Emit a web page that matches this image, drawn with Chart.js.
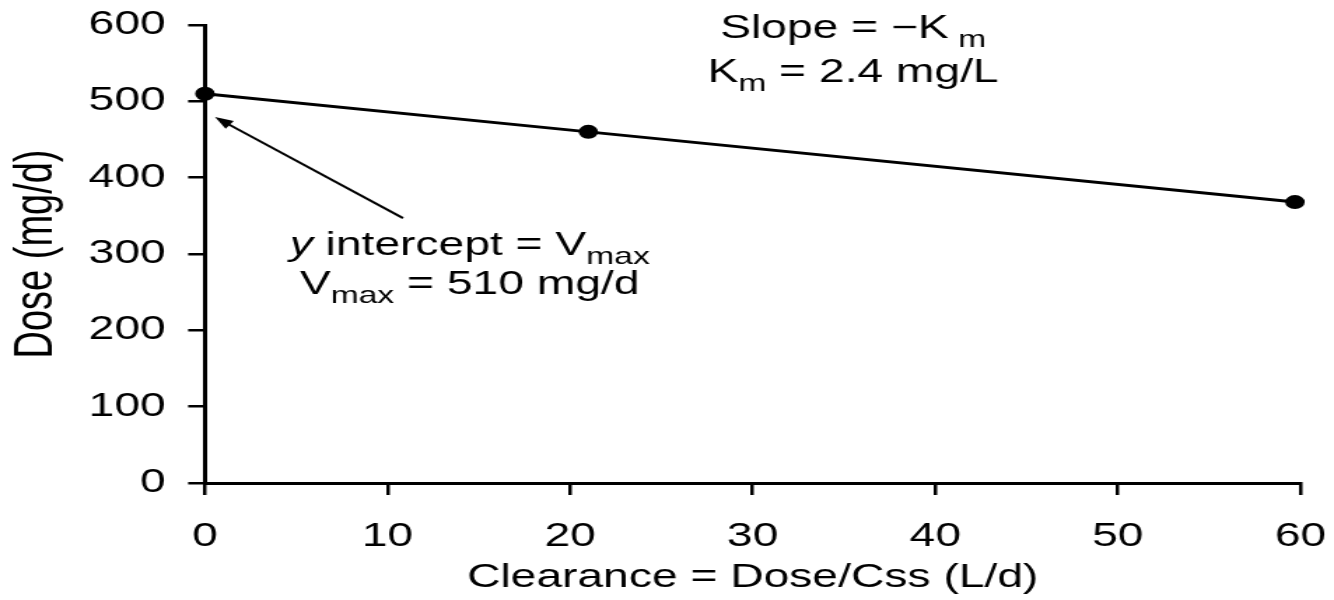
<!DOCTYPE html>
<html lang="en">
<head>
    <meta charset="UTF-8">
    <title>Dose vs clearance</title>
    <script src="https://cdn.jsdelivr.net/npm/chart.js"></script>
    <style>
        body {
            margin: 0;
            background: #fff;
            overflow: hidden;
        }
        /* the original figure is stretched sideways, so draw narrow and widen */
        #wrap {
            width: 953px;
            height: 600px;
            transform: scaleX(1.39979);
            transform-origin: 0 0;
        }
    </style>
</head>
<body>
<div id="wrap"><canvas id="chart"></canvas></div>
<script>
    // values
    const clearance = [0, 21, 59.7];     // L/d
    const dose = [510, 460, 368];         // mg/d
    const xTicks = [0, 10, 20, 30, 40, 50, 60];
    const yTicks = [0, 100, 200, 300, 400, 500, 600];

    const points = clearance.map((c, i) => ({ x: c, y: dose[i] }));
    const FONT = '"Liberation Sans", Arial, Helvetica, sans-serif';

    function fontFor(kind, size) {
        if (kind === 'sub') return `${Math.round(size * 0.72)}px ${FONT}`;
        if (kind === 'it') return `italic ${size}px ${FONT}`;
        return `${size}px ${FONT}`;
    }

    // draw a line of text made of normal / italic / subscript parts, centred on cx
    function drawRich(ctx, parts, cx, baseline, size) {
        let total = 0;
        const widths = parts.map(([t, k]) => {
            ctx.font = fontFor(k, size);
            const w = ctx.measureText(t).width;
            total += w;
            return w;
        });
        let x = cx - total / 2;
        ctx.textAlign = 'left';
        ctx.textBaseline = 'alphabetic';
        parts.forEach(([t, k], i) => {
            ctx.font = fontFor(k, size);
            ctx.fillText(t, x, baseline + (k === 'sub' ? size * 0.28 : 0));
            x += widths[i];
        });
    }

    const notes = {
        id: 'notes',
        afterDraw(chart) {
            const ctx = chart.ctx;
            const xs = chart.scales.x, ys = chart.scales.y;
            const px = v => xs.getPixelForValue(v);
            const py = v => ys.getPixelForValue(v);
            ctx.save();
            ctx.fillStyle = '#000';
            ctx.strokeStyle = '#000';

            drawRich(ctx, [['Slope = \u2212K', 'n'], [' m', 'sub']], px(35.5), py(583), 33);
            drawRich(ctx, [['K', 'n'], ['m', 'sub'], [' = 2.4 mg/L', 'n']], px(35.5), py(525), 33);
            drawRich(ctx, [['y', 'it'], [' intercept = V', 'n'], ['max', 'sub']], px(14.5), py(299), 33);
            drawRich(ctx, [['V', 'n'], ['max', 'sub'], [' = 510 mg/d', 'n']], px(14.5), py(248), 33);

            // arrow pointing at the y intercept
            const x0 = px(10.85), y0 = py(347), x1 = px(0.55), y1 = py(479.5);
            const ang = Math.atan2(y1 - y0, x1 - x0);
            const head = 14;
            ctx.lineWidth = 2;
            ctx.beginPath();
            ctx.moveTo(x0, y0);
            ctx.lineTo(x1 - Math.cos(ang) * head * 0.8, y1 - Math.sin(ang) * head * 0.8);
            ctx.stroke();
            ctx.beginPath();
            ctx.moveTo(x1, y1);
            ctx.lineTo(x1 - head * Math.cos(ang - 0.35), y1 - head * Math.sin(ang - 0.35));
            ctx.lineTo(x1 - head * Math.cos(ang + 0.35), y1 - head * Math.sin(ang + 0.35));
            ctx.closePath();
            ctx.fill();
            ctx.restore();
        }
    };

    new Chart(document.getElementById('chart'), {
        type: 'scatter',
        data: {
            datasets: [{
                data: points,
                showLine: true,
                borderColor: '#000',
                backgroundColor: '#000',
                borderWidth: 3,
                pointRadius: 5.5,
                pointHoverRadius: 5.5,
                clip: false
            }]
        },
        options: {
            responsive: true,
            maintainAspectRatio: false,
            animation: false,
            events: [],
            layout: { padding: { top: 25, right: 24, bottom: 0, left: 0 } },
            plugins: {
                legend: { display: false },
                tooltip: { enabled: false }
            },
            scales: {
                x: {
                    type: 'linear',
                    min: xTicks[0],
                    max: xTicks[xTicks.length - 1],
                    afterBuildTicks: s => { s.ticks = xTicks.map(v => ({ value: v })); },
                    afterFit: s => { s.height = 117; s.paddingLeft = 0; s.paddingRight = 0; },
                    border: { color: '#000', width: 3 },
                    grid: { drawOnChartArea: false, tickLength: 12, color: '#000', lineWidth: 2.5 },
                    ticks: { color: '#000', padding: 22, font: { family: FONT, size: 33 } },
                    title: {
                        display: true,
                        text: 'Clearance = Dose/Css (L/d)',
                        color: '#000',
                        font: { family: FONT, size: 33 },
                        padding: { top: 0, bottom: 2 }
                    }
                },
                y: {
                    min: yTicks[0],
                    max: yTicks[yTicks.length - 1],
                    afterBuildTicks: s => { s.ticks = yTicks.map(v => ({ value: v })); },
                    afterFit: s => { s.width = 146.4; s.paddingTop = 0; s.paddingBottom = 0; },
                    border: { color: '#000', width: 3 },
                    grid: { drawOnChartArea: false, tickLength: 12, color: '#000', lineWidth: 2.5 },
                    ticks: { color: '#000', padding: 16, font: { family: FONT, size: 33 } },
                    title: {
                        display: true,
                        text: 'Dose (mg/d)',
                        color: '#000',
                        font: { family: FONT, size: 38 },
                        padding: { top: 4, bottom: 0 }
                    }
                }
            }
        },
        plugins: [notes]
    });
</script>
</body>
</html>
